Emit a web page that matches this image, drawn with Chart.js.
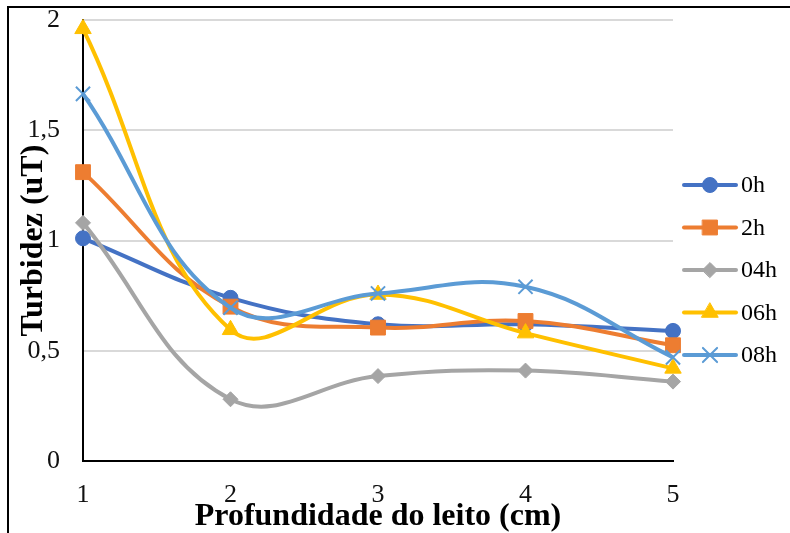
<!DOCTYPE html>
<html lang="pt-BR">
<head>
<meta charset="utf-8">
<title>Turbidez x Profundidade do leito</title>
<script src="https://cdn.jsdelivr.net/npm/chart.js@4.4.1/dist/chart.umd.min.js"></script>
<style>
  html, body { margin: 0; padding: 0; background: #fff; }
</style>
</head>
<body>
<canvas id="turbidezChart" width="790" height="533"></canvas>
<script>
// Dados (turbidez em uT por profundidade do leito)
const profundidades = ['1', '2', '3', '4', '5'];
const nomesSeries = ['0h', '2h', '04h', '06h', '08h'];
const serie0h = [1.01, 0.74, 0.62, 0.62, 0.59];
const serie2h = [1.31, 0.70, 0.605, 0.635, 0.525];
const serie04h = [1.08, 0.28, 0.385, 0.41, 0.36];
const serie06h = [1.96, 0.595, 0.755, 0.58, 0.42];
const serie08h = [1.665, 0.695, 0.76, 0.79, 0.47];
const rotulosY = ['0', '0,5', '1', '1,5', '2'];

// Estilo de cada série (cores padrão do Excel)
const estilos = [
    { cor: '#4472C4', marcador: 'circle', raio: 7.5, borda: 1 },
    { cor: '#ED7D31', marcador: 'rect', raio: 10.5, borda: 1 },
    { cor: '#A5A5A5', marcador: 'rectRot', raio: 7.5, borda: 1 },
    { cor: '#FFC000', marcador: 'triangle', raio: 9.5, borda: 1 },
    { cor: '#5B9BD5', marcador: 'crossRot', raio: 10, borda: 2 }
];
const valores = [serie0h, serie2h, serie04h, serie06h, serie08h];

const datasets = valores.map((dados, i) => ({
    label: nomesSeries[i],
    data: dados,
    borderColor: estilos[i].cor,
    backgroundColor: estilos[i].cor,
    pointBackgroundColor: estilos[i].cor,
    pointBorderColor: estilos[i].cor,
    pointStyle: estilos[i].marcador,
    pointRadius: estilos[i].raio,
    pointBorderWidth: estilos[i].borda,
    borderWidth: 4,
    tension: 0.4,
    clip: false,
    order: valores.length - i // a última série fica por cima, como no Excel
}));

// Moldura preta (topo e lado esquerdo) e fundo branco
const moldura = {
    id: 'moldura',
    beforeDraw(chart) {
        const ctx = chart.ctx;
        ctx.save();
        ctx.fillStyle = '#fff';
        ctx.fillRect(0, 0, chart.width, chart.height);
        ctx.strokeStyle = '#000';
        ctx.lineWidth = 2;
        ctx.beginPath();
        ctx.moveTo(8, chart.height);
        ctx.lineTo(8, 7);
        ctx.lineTo(chart.width, 7);
        ctx.stroke();
        ctx.restore();
    }
};

// Legenda com linha + marcador, igual ao Excel
const legendaManual = {
    id: 'legendaManual',
    afterDraw(chart) {
        const ctx = chart.ctx;
        chart.data.datasets.forEach((ds, i) => {
            const y = 185 + i * 42.5;
            ctx.save();
            ctx.strokeStyle = ds.borderColor;
            ctx.lineWidth = 4;
            ctx.lineCap = 'round';
            ctx.beginPath();
            ctx.moveTo(684, y);
            ctx.lineTo(736, y);
            ctx.stroke();
            ctx.fillStyle = ds.pointBackgroundColor;
            ctx.strokeStyle = ds.pointBorderColor;
            ctx.lineWidth = ds.pointBorderWidth;
            Chart.helpers.drawPoint(ctx, {
                pointStyle: ds.pointStyle,
                radius: ds.pointRadius,
                rotation: 0,
                borderWidth: ds.pointBorderWidth
            }, 710, y);
            ctx.fillStyle = '#000';
            ctx.font = '24px "Liberation Serif"';
            ctx.textBaseline = 'middle';
            ctx.textAlign = 'left';
            ctx.fillText(ds.label, 741, y + 1);
            ctx.restore();
        });
    }
};

const ctx = document.getElementById('turbidezChart').getContext('2d');
new Chart(ctx, {
    type: 'line',
    data: { labels: profundidades, datasets: datasets },
    plugins: [moldura, legendaManual],
    options: {
        responsive: false,
        animation: false,
        devicePixelRatio: 1,
        layout: { padding: { top: 20, right: 117, left: 0, bottom: 0 } },
        plugins: {
            legend: { display: false },
            tooltip: { enabled: false }
        },
        scales: {
            x: {
                grid: { display: false },
                border: { display: true, color: '#000', width: 2 },
                ticks: {
                    color: '#111',
                    padding: 11,
                    maxRotation: 0,
                    font: { family: '"Liberation Serif"', size: 26 }
                },
                title: {
                    display: true,
                    text: 'Profundidade do leito (cm)',
                    color: '#000',
                    padding: 0,
                    font: { family: '"Liberation Serif"', size: 32, weight: 'bold', lineHeight: 1 }
                },
                afterFit(scale) {
                    scale.height = 72;
                    scale.paddingLeft = 0;
                    scale.paddingRight = 0;
                }
            },
            y: {
                min: 0,
                max: 2,
                ticks: {
                    stepSize: 0.5,
                    color: '#111',
                    padding: 23,
                    font: { family: '"Liberation Serif"', size: 26 },
                    callback: (valor, indice) => rotulosY[indice]
                },
                grid: { color: '#d9d9d9', lineWidth: 2, drawTicks: false },
                border: { display: true, color: '#000', width: 2 },
                title: {
                    display: true,
                    text: 'Turbidez (uT)',
                    color: '#000',
                    padding: { top: 18, bottom: 0 },
                    font: { family: '"Liberation Serif"', size: 32, weight: 'bold', lineHeight: 1 }
                },
                afterFit(scale) {
                    scale.width = 83;
                    scale.paddingTop = 0;
                    scale.paddingBottom = 0;
                }
            }
        }
    }
});
</script>
</body>
</html>
